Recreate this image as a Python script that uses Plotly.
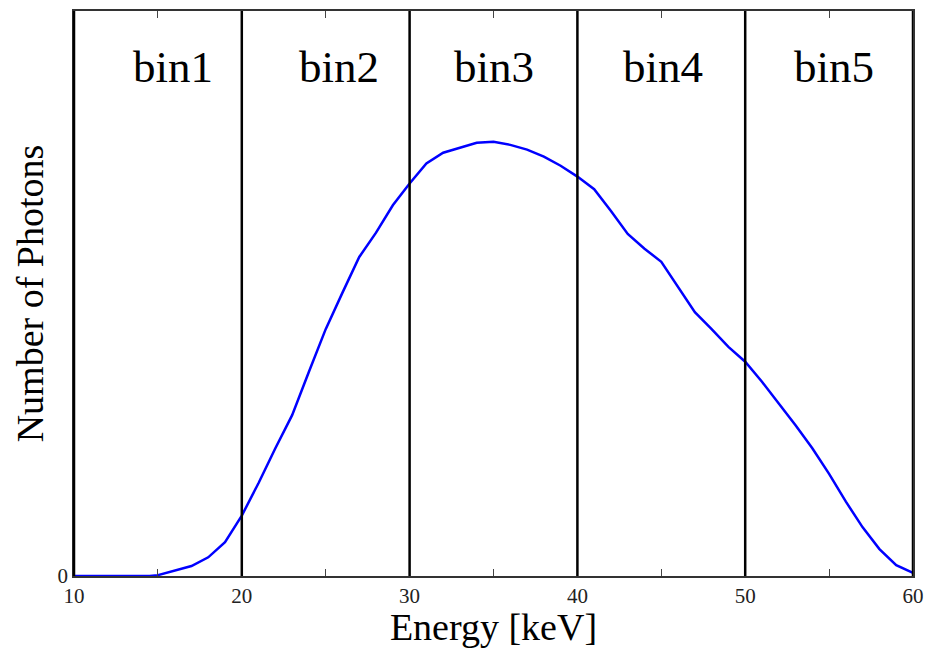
import plotly.graph_objects as go

energy = [10, 11, 12, 13, 14, 14.5, 15, 16, 17, 18, 19, 20, 21, 22, 23, 24, 25, 26, 27, 28, 29,
          30, 31, 32, 33, 34, 35, 36, 37, 38, 39, 40, 41, 42, 43, 44, 45, 46, 47, 48, 49,
          50, 51, 52, 53, 54, 55, 56, 57, 58, 59, 60]
photons = [0, 0, 0, 0, 0, 0, 0.002, 0.012, 0.023, 0.043, 0.078, 0.139, 0.214, 0.294, 0.37, 0.47,
           0.568, 0.652, 0.734, 0.79, 0.853, 0.903, 0.949, 0.974, 0.985, 0.997, 0.999, 0.992,
           0.981, 0.965, 0.944, 0.919, 0.89, 0.84, 0.787, 0.753, 0.723, 0.664, 0.607, 0.568,
           0.527, 0.493, 0.447, 0.397, 0.347, 0.294, 0.235, 0.171, 0.112, 0.062, 0.025, 0.007]

bin_edges = [20, 30, 40, 50, 60]
bin_labels = ["bin1", "bin2", "bin3", "bin4", "bin5"]
bin_label_x = [15.9, 25.8, 35.0, 45.1, 55.3]
x_tickvals = [10, 15, 20, 25, 30, 35, 40, 45, 50, 55, 60]
x_ticktext = ["10", "", "20", "", "30", "", "40", "", "50", "", "60"]

FONT = "Liberation Serif, Times New Roman, serif"

fig = go.Figure()
fig.add_trace(go.Scatter(x=energy, y=photons, mode="lines",
                         line=dict(color="#0000ff", width=2.5), showlegend=False))

shapes = []
for e in bin_edges:
    shapes.append(dict(type="line", xref="x", yref="paper", x0=e, x1=e, y0=0, y1=1,
                       line=dict(color="black", width=2.5)))
shapes.append(dict(type="line", xref="paper", yref="paper", x0=0, x1=0, y0=0, y1=1,
                   line=dict(color="black", width=2.5)))
fig.update_layout(shapes=shapes)

annotations = []
for lab, bx in zip(bin_labels, bin_label_x):
    annotations.append(dict(x=bx, y=1.172, xref="x", yref="y", text=lab, showarrow=False,
                            font=dict(family=FONT, size=45, color="black"),
                            xanchor="center", yanchor="middle"))
fig.update_layout(annotations=annotations)

fig.update_xaxes(range=[10, 60], tickvals=x_tickvals, ticktext=x_ticktext,
                 ticks="inside", ticklen=7, tickcolor="#444", tickwidth=1.2, showgrid=False, zeroline=False,
                 showline=True, linecolor="#333", linewidth=1.5, mirror="ticks",
                 tickfont=dict(family=FONT, size=21, color="#222"),
                 title=dict(text="Energy [keV]", font=dict(family=FONT, size=38, color="black"), standoff=4))
fig.update_yaxes(range=[0, 1.3], tickvals=[0], ticktext=["0"], ticks="", showgrid=False,
                 zeroline=False, showline=True, linecolor="#333", linewidth=1.5, mirror=True,
                 tickfont=dict(family=FONT, size=21, color="#222"),
                 title=dict(text="Number of Photons", font=dict(family=FONT, size=38, color="black"), standoff=2))

fig.update_layout(width=934, height=648, margin=dict(l=74, r=21, t=9, b=69),
                  plot_bgcolor="white", paper_bgcolor="white")

fig.write_html("out.html")
